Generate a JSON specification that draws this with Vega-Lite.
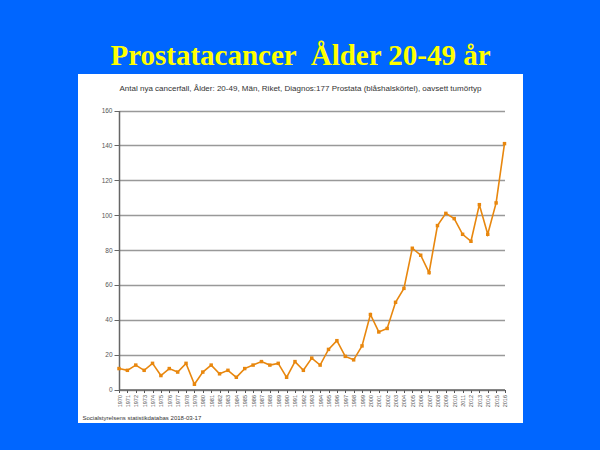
{
  "$schema": "https://vega.github.io/schema/vega-lite/v6.json",
  "autosize": {"type": "none"},
  "padding": {"left": 78, "top": 74, "right": 77, "bottom": 27},
  "width": 445,
  "height": 349,
  "background": "#0066FF",
  "title": {
    "text": "Prostatacancer \u00a0Ålder 20-49 år",
    "subtitle": "Antal nya cancerfall, Ålder: 20-49, Män, Riket, Diagnos:177 Prostata (blåshalskörtel), oavsett tumörtyp",
    "font": "Liberation Serif",
    "fontSize": 29,
    "fontWeight": "bold",
    "color": "#FFFF00",
    "subtitleFont": "Liberation Sans",
    "subtitleFontSize": 8,
    "subtitleColor": "#333333",
    "anchor": "middle",
    "frame": "group",
    "offset": -19,
    "subtitlePadding": 14
  },
  "config": {"view": {"fill": "white", "stroke": null}},
  "data": {
    "values": [
      {"year": 1970, "count": 12}, {"year": 1971, "count": 11}, {"year": 1972, "count": 14},
      {"year": 1973, "count": 11}, {"year": 1974, "count": 15}, {"year": 1975, "count": 8},
      {"year": 1976, "count": 12}, {"year": 1977, "count": 10}, {"year": 1978, "count": 15},
      {"year": 1979, "count": 3}, {"year": 1980, "count": 10}, {"year": 1981, "count": 14},
      {"year": 1982, "count": 9}, {"year": 1983, "count": 11}, {"year": 1984, "count": 7},
      {"year": 1985, "count": 12}, {"year": 1986, "count": 14}, {"year": 1987, "count": 16},
      {"year": 1988, "count": 14}, {"year": 1989, "count": 15}, {"year": 1990, "count": 7},
      {"year": 1991, "count": 16}, {"year": 1992, "count": 11}, {"year": 1993, "count": 18},
      {"year": 1994, "count": 14}, {"year": 1995, "count": 23}, {"year": 1996, "count": 28},
      {"year": 1997, "count": 19}, {"year": 1998, "count": 17}, {"year": 1999, "count": 25},
      {"year": 2000, "count": 43}, {"year": 2001, "count": 33}, {"year": 2002, "count": 35},
      {"year": 2003, "count": 50}, {"year": 2004, "count": 58}, {"year": 2005, "count": 81},
      {"year": 2006, "count": 77}, {"year": 2007, "count": 67}, {"year": 2008, "count": 94},
      {"year": 2009, "count": 101}, {"year": 2010, "count": 98}, {"year": 2011, "count": 89},
      {"year": 2012, "count": 85}, {"year": 2013, "count": 106}, {"year": 2014, "count": 89},
      {"year": 2015, "count": 107}, {"year": 2016, "count": 141}
    ]
  },
  "mark": {
    "type": "line",
    "color": "#E8870E",
    "strokeWidth": 1.6,
    "point": {"shape": "square", "size": 12, "filled": true, "color": "#E8870E"}
  },
  "encoding": {
    "x": {
      "field": "year",
      "type": "quantitative",
      "scale": {"domain": [1970, 2016], "range": [41, 426.5], "nice": false, "zero": false},
      "axis": {
        "values": [1970,1971,1972,1973,1974,1975,1976,1977,1978,1979,1980,1981,1982,1983,1984,1985,1986,1987,1988,1989,1990,1991,1992,1993,1994,1995,1996,1997,1998,1999,2000,2001,2002,2003,2004,2005,2006,2007,2008,2009,2010,2011,2012,2013,2014,2015,2016],
        "format": "d",
        "labelAngle": -90,
        "labelFont": "Liberation Sans",
        "labelFontSize": 5.5,
        "labelColor": "#555555",
        "labelPadding": 2,
        "labelOverlap": false,
        "tickColor": "#555555",
        "tickSize": 3,
        "domainColor": "#666666",
        "domainWidth": 1.5,
        "grid": false,
        "offset": -33.5,
        "title": "Socialstyrelsens statistikdatabas 2018-03-17",
        "titleFont": "Liberation Sans",
        "titleFontSize": 6,
        "titleFontWeight": "normal",
        "titleColor": "#333333",
        "titleAnchor": "start",
        "titleAlign": "left",
        "titleBaseline": "alphabetic",
        "titleX": 4,
        "titleY": 30
      }
    },
    "y": {
      "field": "count",
      "type": "quantitative",
      "scale": {"domain": [0, 160], "range": [315.5, 36.5], "nice": false},
      "axis": {
        "values": [0, 20, 40, 60, 80, 100, 120, 140, 160],
        "labelFont": "Liberation Sans",
        "labelFontSize": 6.5,
        "labelColor": "#555555",
        "labelPadding": 2,
        "tickColor": "#666666",
        "tickSize": 5,
        "domainColor": "#666666",
        "domainWidth": 1.5,
        "grid": true,
        "gridColor": "#999999",
        "gridWidth": 1.5,
        "offset": -41,
        "title": null
      }
    }
  }
}
